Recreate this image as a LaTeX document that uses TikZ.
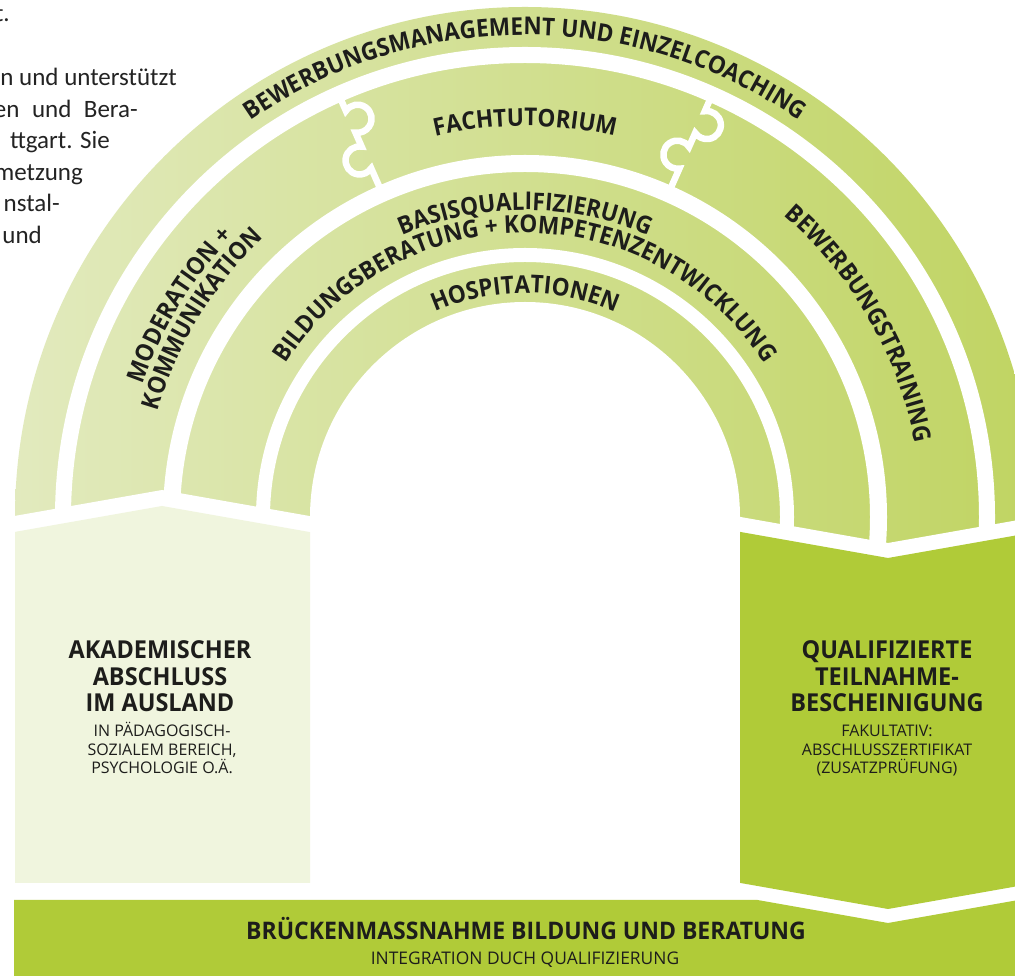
\documentclass[tikz,border=0pt]{standalone}
\usepackage{fontspec}
\newfontfamily\osfont{Open Sans}
\newfontfamily\osarc{Open Sans}[FakeStretch=0.92]
\newfontfamily\ostitle{Open Sans}[FakeStretch=0.95]
\newfontfamily\bodyfont{Carlito}
\usetikzlibrary{decorations.text}
\definecolor{ringL}{RGB}{226,234,190}
\definecolor{ringR}{RGB}{192,212,98}
\definecolor{boxL}{RGB}{240,245,222}
\definecolor{lime}{RGB}{176,203,56}
\definecolor{ink}{RGB}{29,29,27}
\definecolor{bodyink}{RGB}{35,35,35}
\newcommand\arclabel[4]{%
  \path[decorate, decoration={text along path, text align=center, text color=ink,
    text={|\osarc\bfseries\fontsize{24.5}{28}\selectfont|#4}}]
    (C) ++(#2:#1pt) arc[start angle=#2, end angle=#3, radius=#1pt];}
\newcommand\puzzle[1]{%
  \begin{scope}[shift={(C)}, rotate=#1-90]
    \draw[gapline] (0,460) -- (0,443.82)
      arc[start angle=122.4, end angle=-122.4, radius=14pt] -- (0,404.82)
      arc[start angle=57.6, end angle=302.4, radius=14pt] -- (0,356);
  \end{scope}}
\begin{document}
\begin{tikzpicture}[x=1pt,y=1pt,
  gapline/.style={white, line width=6.5pt},
  title/.style={font=\ostitle\bfseries\fontsize{24.7}{27}\selectfont, text=ink, inner sep=0pt, anchor=base},
  sub/.style={font=\osfont\fontsize{16}{18}\selectfont, text=ink, inner sep=0pt, anchor=base},
  bartitle/.style={font=\ostitle\bfseries\fontsize{24.2}{27}\selectfont, text=ink, inner sep=0pt, anchor=base},
  barsub/.style={font=\osfont\fontsize{17.4}{20}\selectfont, text=ink, inner sep=0pt, anchor=base},
  para/.style={font=\bodyfont\fontsize{25}{31}\selectfont, text=bodyink, inner sep=0pt, anchor=base east}]
\clip (0,0) rectangle (1015,975);
\fill[white] (0,0) rectangle (1015,975);
\coordinate (C) at (525,458);

% ---- arch rings ----
\shade[left color=ringL, right color=ringR] (C) circle[radius=510pt];
\fill[white, even odd rule] (C) circle[radius=470pt] (C) circle[radius=454pt];
\fill[white, even odd rule] (C) circle[radius=362pt] (C) circle[radius=345pt];
\fill[white, even odd rule] (C) circle[radius=269pt] (C) circle[radius=255pt];
\fill[white] (C) circle[radius=215pt];
\puzzle{113.8}
\puzzle{66.1}
% cut below the arch
\fill[white] (-10,-10) -- (-10,454.7) -- (162,485) -- (310,458.9) -- (740,458.1)
      -- (888,432) -- (1040,458.8) -- (1040,-10) -- cycle;

% ---- arc labels ----
\arclabel{482}{150}{30}{BEWERBUNGSMANAGEMENT UND EINZELCOACHING}
\arclabel{391}{130}{50}{FACHTUTORIUM}
\arclabel{307}{140}{40}{BASISQUALIFIZIERUNG}
\arclabel{284}{150}{30}{BILDUNGSBERATUNG + KOMPETENZENTWICKLUNG}
\arclabel{224}{140}{40}{HOSPITATIONEN}
\arclabel{405}{188.5}{108.5}{MODERATION +}
\arclabel{382}{188.5}{108.5}{KOMMUNIKATION}
\arclabel{397}{70}{-10}{BEWERBUNGSTRAINING}

% ---- boxes ----
\fill[boxL] (15,443.1) -- (162,469) -- (310,442.9) -- (310,92) -- (15,92) -- cycle;
\fill[lime] (740,443.1) -- (888,417) -- (1040,443.8) -- (1040,92.8) -- (888,66) -- (740,92.1) -- cycle;
\fill[lime] (14,75) -- (757.5,75) -- (888,52) -- (1018.5,75) -- (1040,75) -- (1040,-5) -- (14,-5) -- cycle;

% ---- box texts ----
\node[title] (l1) at (160,316) {AKADEMISCHER};
\node[title] (l2) at (160,289) {ABSCHLUSS};
\node[title] (l3) at (160,263) {IM AUSLAND};
\node[sub] (l4) at (162,238) {IN PÄDAGOGISCH-};
\node[sub] (l5) at (162,219.5) {SOZIALEM BEREICH,};
\node[sub] (l6) at (162,201) {PSYCHOLOGIE O.Ä.};

\node[title] (r1) at (887,316) {QUALIFIZIERTE};
\node[title] (r2) at (887,289) {TEILNAHME-};
\node[title] (r3) at (887,263) {BESCHEINIGUNG};
\node[sub] (r4) at (887,238) {FAKULTATIV:};
\node[sub] (r5) at (887,219.5) {ABSCHLUSSZERTIFIKAT};
\node[sub] (r6) at (887,201) {(ZUSATZPRÜFUNG)};

\node[bartitle] (b1) at (526,35) {BRÜCKENMASSNAHME BILDUNG UND BERATUNG};
\node[barsub] (b2) at (525,11) {INTEGRATION DUCH QUALIFIZIERUNG};

% ---- cut-off paragraph ----
\node[para] (p0) at (10,953) {t.};
\node[para] (p1) at (177,889) {n und unterstützt};
\node[para] (p2) at (138,857.5) {en\hspace{0.5em}und\hspace{0.5em}Bera-};
\node[para] (p3) at (110,826) {ttgart. Sie};
\node[para] (p4) at (83,794.5) {metzung};
\node[para] (p5) at (60,763) {nstal-};
\node[para] (p6) at (42,731.5) {und};
\end{tikzpicture}
\end{document}
